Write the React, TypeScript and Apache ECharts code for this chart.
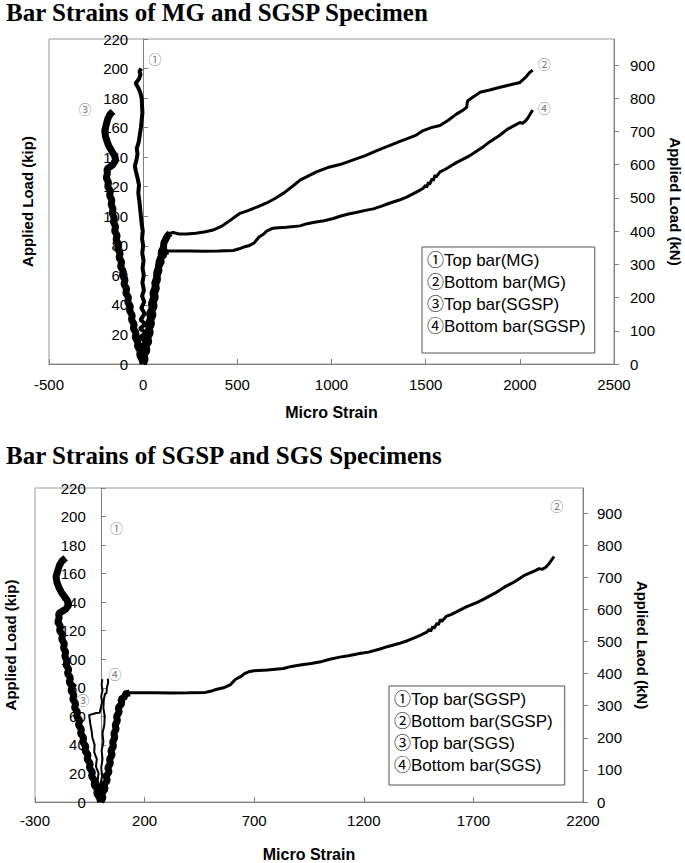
import React, { useEffect, useRef } from 'react';
import * as echarts from 'echarts';

// strain (micro strain), load (kip)
const mgTopBar: number[][] = [
  [0, 0], [10, 3], [-12, 6], [14, 9], [-16, 12], [18, 15], [-20, 18], [16, 21], [-18, 24], [12, 27],
  [-14, 30], [8, 34], [-10, 38], [6, 42], [-6, 46], [4, 50], [-4, 55], [3, 60], [-3, 65], [2, 70],
  [-5, 75], [0, 80], [-6, 85], [-2, 90], [-8, 95], [-12, 100], [-16, 105], [-20, 110], [-26, 116],
  [-22, 121], [-30, 126], [-38, 130], [-44, 134], [-36, 138], [-30, 142], [-34, 146], [-24, 150],
  [-18, 155], [-12, 160], [-8, 165], [-4, 170], [-6, 175], [-8, 180], [-16, 184], [-26, 187],
  [-40, 190], [-22, 193], [-14, 196], [-20, 198], [-10, 200],
];

const mgBottomBar: number[][] = [
  [0, 0], [8, 4], [2, 7], [16, 10], [10, 13], [24, 17], [18, 20], [32, 24], [26, 27], [40, 31],
  [34, 34], [48, 38], [44, 41], [56, 45], [52, 48], [64, 52], [62, 55], [74, 59], [72, 62], [84, 66],
  [84, 69], [96, 73], [96, 76], [108, 79], [110, 82], [122, 85], [130, 87], [143, 88.5], [160, 89],
  [190, 88], [230, 88], [280, 88.5], [330, 89.5], [371, 90.7], [420, 93.5], [470, 98], [514, 102],
  [560, 104], [610, 106.5], [656, 109], [700, 112], [750, 116], [800, 121], [833, 124.5], [880, 127.5],
  [920, 130], [980, 133], [1045, 135], [1090, 137], [1134, 139], [1180, 141], [1222, 143.4],
  [1270, 146], [1311, 148], [1360, 150.5], [1399, 152.4], [1450, 155], [1487, 158], [1530, 160],
  [1576, 161.4], [1620, 165], [1665, 169.3], [1700, 172], [1718, 173.8], [1722, 178], [1750, 180.5],
  [1789, 183.9], [1840, 185.5], [1895, 187.3], [1950, 189], [2001, 190.6], [2030, 194], [2050, 197],
  [2068, 199],
];

const sgspTopBar: number[][] = [
  [0, 0], [-6, 3], [-18, 6], [-16, 9], [-30, 12], [-28, 15], [-42, 18], [-38, 21], [-52, 24], [-48, 27],
  [-62, 30], [-58, 33], [-72, 36], [-68, 39], [-82, 42], [-78, 45], [-92, 48], [-88, 51], [-102, 54],
  [-96, 57], [-110, 60], [-106, 63], [-120, 66], [-114, 69], [-128, 72], [-122, 75], [-136, 78],
  [-130, 81], [-144, 84], [-138, 87], [-152, 90], [-146, 93], [-158, 96], [-154, 99], [-164, 102],
  [-160, 105], [-170, 108], [-166, 111], [-178, 114], [-174, 117], [-188, 120], [-184, 123],
  [-196, 126], [-190, 129], [-192, 132], [-160, 135], [-146, 138], [-152, 141], [-166, 144],
  [-180, 147], [-190, 150], [-200, 154], [-204, 158], [-196, 162], [-188, 166], [-176, 169], [-160, 171],
];

const sgspBottomBar: number[][] = [
  [0, 0], [10, 3], [4, 6], [20, 9], [14, 12], [30, 15], [24, 18], [38, 21], [32, 24], [44, 27],
  [40, 30], [52, 33], [46, 36], [58, 39], [54, 42], [64, 45], [60, 48], [70, 51], [66, 54], [76, 57],
  [72, 60], [84, 63], [80, 66], [96, 69], [92, 72], [112, 74], [108, 75.5], [132, 76.5], [180, 76.5],
  [250, 76.5], [320, 76.3], [400, 76.5], [478, 76.8], [510, 78], [530, 79], [560, 80], [590, 82],
  [615, 86], [640, 88], [656, 90], [680, 91.5], [700, 92], [760, 92.5], [833, 93.5], [870, 95],
  [910, 96], [960, 97], [1010, 98.5], [1045, 100], [1090, 101.5], [1130, 102.5], [1180, 104],
  [1222, 105], [1270, 107], [1311, 109], [1360, 111], [1399, 113], [1430, 115], [1460, 117],
  [1487, 119], [1500, 121], [1505, 119.5], [1515, 123], [1520, 121.5], [1535, 125.5], [1540, 124],
  [1550, 128], [1555, 126.5], [1576, 130], [1600, 131.5], [1620, 133], [1665, 136.5], [1720, 140],
  [1752, 142.5], [1800, 146.5], [1841, 150.5], [1890, 154.5], [1935, 159], [1980, 162], [2000, 163.5],
  [2015, 163], [2030, 164.5], [2045, 167], [2068, 172],
];

const sgsTopBar: number[][] = [
  [0, 0], [-8, 5], [-4, 10], [-14, 15], [-10, 20], [-22, 25], [-18, 30], [-30, 35], [-28, 40],
  [-38, 45], [-42, 50], [-48, 55], [-53, 61], [-40, 61.5], [-20, 62.4], [-5, 62.5], [0, 66], [6, 70],
  [2, 74], [8, 78], [4, 82], [7, 86],
];

const sgsBottomBar: number[][] = [
  [0, 0], [4, 6], [-2, 12], [6, 18], [2, 24], [8, 30], [4, 36], [12, 42], [8, 48], [16, 54],
  [18, 60], [12, 66], [14, 72], [20, 76], [26, 76], [28, 80], [34, 84], [32, 86.5],
];

// circled markers beside the curves: [strain, kip, text]
const topNotes: (number | string)[][] = [
  [63, 207, '①'], [2129, 203.5, '②'], [-309, 173, '③'], [2129, 173.8, '④'],
];
const bottomNotes: (number | string)[][] = [
  [72, 192, '①'], [2080, 208, '②'], [-81, 71.5, '③'], [65, 89.7, '④'],
];

const topNames = ['①Top bar(MG)', '②Bottom bar(MG)', '③Top bar(SGSP)', '④Bottom bar(SGSP)'];
const bottomNames = ['①Top bar(SGSP)', '②Bottom bar(SGSP)', '③Top bar(SGS)', '④Bottom bar(SGS)'];

const topStrainTicks = [-500, 0, 500, 1000, 1500, 2000, 2500];
const bottomStrainTicks = [-300, 200, 700, 1200, 1700, 2200];
const kipTicks = [0, 20, 40, 60, 80, 100, 120, 140, 160, 180, 200, 220];
const knTicks = [0, 100, 200, 300, 400, 500, 600, 700, 800, 900];

const KIP_TO_KN = 4.448222;
const WIDTH = 685;
const HEIGHT = 863;

const grids = [
  { left: 49, right: 71, top: 39, height: 325 },
  { left: 35, right: 102, top: 488, height: 314 },
];

const SANS = 'Liberation Sans, Arial, Noto Sans CJK JP, sans-serif';
const CIRCLED = 'Noto Sans CJK JP, sans-serif';
const GRAY = '#808080';

const line = (name: string, data: number[][], axis: number, width = 3) => ({
  name,
  type: 'line',
  xAxisIndex: axis,
  yAxisIndex: axis * 2,
  data,
  showSymbol: false,
  symbol: 'none',
  lineStyle: { color: '#000', width },
  itemStyle: { color: '#000' },
  z: 3,
});

// the noisy, heavy start of a curve, up to where it turns
const band = (name: string, data: number[][], axis: number, maxStrain: number, maxKip: number) =>
  line(name, data.filter((p) => p[0] <= maxStrain && p[1] <= maxKip), axis, 7);

const notes = (data: (number | string)[][], axis: number) => ({
  type: 'scatter',
  xAxisIndex: axis,
  yAxisIndex: axis * 2,
  data,
  symbolSize: 1,
  itemStyle: { color: 'transparent' },
  silent: true,
  label: {
    show: true,
    position: 'inside',
    formatter: (p: any) => p.value[2],
    fontFamily: CIRCLED,
    fontSize: 13,
    color: '#555',
  },
  z: 4,
});

const plain = (v: number) => String(Math.round(v));

const strainAxis = (grid: number, ticks: number[], margin: number, gap: number) => ({
  type: 'value',
  gridIndex: grid,
  min: ticks[0],
  max: ticks[ticks.length - 1],
  name: 'Micro Strain',
  nameLocation: 'middle',
  nameGap: gap,
  nameTextStyle: { fontFamily: SANS, fontWeight: 'bold', fontSize: 16, color: '#000' },
  axisLine: { onZero: false, lineStyle: { color: GRAY, width: 1 } },
  axisTick: { inside: true, length: 5, customValues: ticks, lineStyle: { color: GRAY } },
  axisLabel: { customValues: ticks, formatter: plain, margin, fontFamily: SANS, fontSize: 15, color: '#000' },
  splitLine: { show: false },
});

// the kip axis stands at zero strain, labels and name included
const kipAxis = (grid: number, ticks: number[], gap: number) => {
  const g = grids[grid];
  const plotWidth = WIDTH - g.left - g.right;
  const offset = -plotWidth * (0 - ticks[0]) / (ticks[ticks.length - 1] - ticks[0]);
  return {
    type: 'value',
    gridIndex: grid,
    position: 'left',
    offset,
    min: 0,
    max: kipTicks[kipTicks.length - 1],
    name: 'Applied Load (kip)',
    nameLocation: 'middle',
    nameGap: gap,
    nameTextStyle: { fontFamily: SANS, fontWeight: 'bold', fontSize: 15, color: '#000' },
    axisLine: { onZero: false, lineStyle: { color: GRAY, width: 1 } },
    axisTick: { inside: true, length: 5, customValues: kipTicks, lineStyle: { color: GRAY } },
    axisLabel: { customValues: kipTicks, formatter: plain, margin: 15, fontFamily: SANS, fontSize: 15, color: '#000' },
    splitLine: { show: false },
  };
};

const knAxis = (grid: number, name: string, margin: number, gap: number) => ({
  type: 'value',
  gridIndex: grid,
  position: 'right',
  min: 0,
  max: kipTicks[kipTicks.length - 1] * KIP_TO_KN,
  name,
  nameLocation: 'middle',
  nameRotate: -90,
  nameGap: gap,
  nameTextStyle: { fontFamily: SANS, fontWeight: 'bold', fontSize: 15, color: '#000' },
  axisLine: { show: true, onZero: false, lineStyle: { color: GRAY, width: 1 } },
  axisTick: { show: true, inside: false, length: 5, customValues: knTicks, lineStyle: { color: GRAY } },
  axisLabel: { customValues: knTicks, formatter: plain, margin, fontFamily: SANS, fontSize: 15, color: '#000' },
  splitLine: { show: false },
});

const legend = (names: string[], left: number, top: number, padding: number[]) => ({
  data: names,
  orient: 'vertical',
  left,
  top,
  padding,
  icon: 'rect',
  itemWidth: 0,
  itemHeight: 10,
  itemGap: 2,
  itemStyle: { opacity: 0 },
  lineStyle: { opacity: 0 },
  selectedMode: false,
  borderColor: '#555',
  borderWidth: 1,
  textStyle: { fontFamily: SANS, fontSize: 17, lineHeight: 20, color: '#000' },
});

const titleStyle = { fontFamily: 'Liberation Serif, Times New Roman, serif', fontWeight: 'bold', fontSize: 25, color: '#000' };

export default function App() {
  const ref = useRef<HTMLDivElement>(null);

  useEffect(() => {
    document.body.style.margin = '0';
    if (!ref.current) return;
    const chart = echarts.init(ref.current, null, { renderer: 'svg' });
    chart.setOption({
      animation: false,
      backgroundColor: '#fff',
      title: [
        { text: 'Bar Strains of MG and SGSP Specimen', left: 6, top: 0, padding: 0, textStyle: titleStyle },
        { text: 'Bar Strains of SGSP and SGS Specimens', left: 6, top: 443, padding: 0, textStyle: titleStyle },
      ],
      legend: [
        legend(topNames, 422, 247, [3, 9, 17, 0]),
        legend(bottomNames, 389, 686, [3, 12, 10, 0]),
      ],
      grid: grids.map((g) => ({
        ...g,
        show: true,
        borderColor: '#999',
        borderWidth: 1,
        outerBoundsMode: 'none',
        containLabel: false,
      })),
      xAxis: [
        strainAxis(0, topStrainTicks, 13, 40),
        strainAxis(1, bottomStrainTicks, 11, 44),
      ],
      yAxis: [
        kipAxis(0, topStrainTicks, 108),
        knAxis(0, 'Applied Load (kN)', 16, 54),
        kipAxis(1, bottomStrainTicks, 83),
        knAxis(1, 'Applied Laod (kN)', 14, 52),
      ],
      series: [
        line(topNames[0], mgTopBar, 0, 4),
        line(topNames[1], mgBottomBar, 0),
        band(topNames[1], mgBottomBar, 0, 145, 88.5),
        line(topNames[2], sgspTopBar, 0, 7),
        line(topNames[3], sgspBottomBar, 0),
        band(topNames[3], sgspBottomBar, 0, 132, 76.5),
        notes(topNotes, 0),
        line(bottomNames[0], sgspTopBar, 1, 7),
        line(bottomNames[1], sgspBottomBar, 1),
        band(bottomNames[1], sgspBottomBar, 1, 132, 76.5),
        line(bottomNames[2], sgsTopBar, 1, 2),
        line(bottomNames[3], sgsBottomBar, 1, 2),
        notes(bottomNotes, 1),
      ],
    });
    return () => {
      chart.dispose();
    };
  }, []);

  return <div ref={ref} style={{ width: WIDTH, height: HEIGHT }} />;
}
